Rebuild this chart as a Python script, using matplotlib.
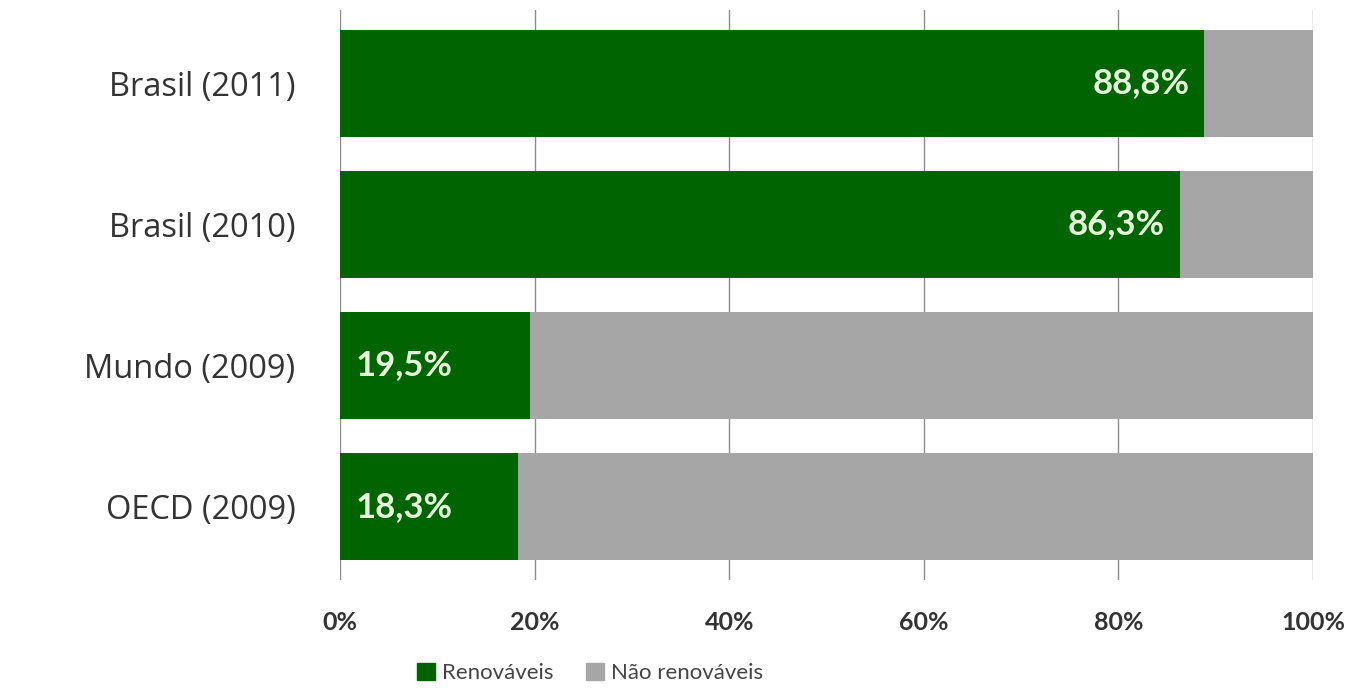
import numpy as np
import matplotlib
matplotlib.use("Agg")
from matplotlib import pyplot as plt
from matplotlib.patches import Patch

plt.rcParams['font.family'] = ['Lato', 'DejaVu Sans']

categories = ["Brasil (2011)", "Brasil (2010)", "Mundo (2009)", "OECD (2009)"]
renovaveis = [88.8, 86.3, 19.5, 18.3]
nao_renovaveis = [100 - v for v in renovaveis]
labels = ["88,8%", "86,3%", "19,5%", "18,3%"]
xticks = [0, 20, 40, 60, 80, 100]
xtick_labels = ["0%", "20%", "40%", "60%", "80%", "100%"]

green = "#006400"
grey = "#a6a6a6"

fig = plt.figure(figsize=(13.6, 6.88), dpi=100)
ax = fig.add_axes([340/1360, 108/688, 973/1360, 570/688])

y = np.arange(len(categories))
ax.barh(y, renovaveis, height=0.76, color=green, zorder=2)
ax.barh(y, nao_renovaveis, left=renovaveis, height=0.76, color=grey, zorder=2)

for yi, v, lab in zip(y, renovaveis, labels):
    if v > 50:
        ax.text(v - 1.5, yi, lab, ha="right", va="center", fontsize=25,
                fontweight="bold", color="#e6f5dc", zorder=3)
    else:
        ax.text(1.6, yi, lab, ha="left", va="center", fontsize=25,
                fontweight="bold", color="#e6f5dc", zorder=3)

ax.set_xlim(0, 100)
ax.set_ylim(3.52, -0.52)
ax.set_yticks(y)
ax.set_yticklabels(categories, fontsize=23.5, color="#333333", family="Open Sans")
ax.set_xticks(xticks)
ax.set_xticklabels(xtick_labels, fontsize=18, fontweight="bold", color="#333333")
ax.tick_params(axis="y", length=0, pad=32)
ax.tick_params(axis="x", length=0, pad=22)
ax.xaxis.grid(True, color="#8c8c8c", linewidth=1, zorder=1)
for s in ax.spines.values():
    s.set_visible(False)

handles = [Patch(color=green), Patch(color=grey)]
fig.legend(handles, ["Renováveis", "Não renováveis"], loc="center",
           bbox_to_anchor=(590/1360, 1 - 673/688), ncol=2, frameon=False,
           fontsize=16, handlelength=0.8, handleheight=0.8, handletextpad=0.3,
           columnspacing=1.5, labelcolor="#444444")

fig.savefig("out.png", dpi=100)
